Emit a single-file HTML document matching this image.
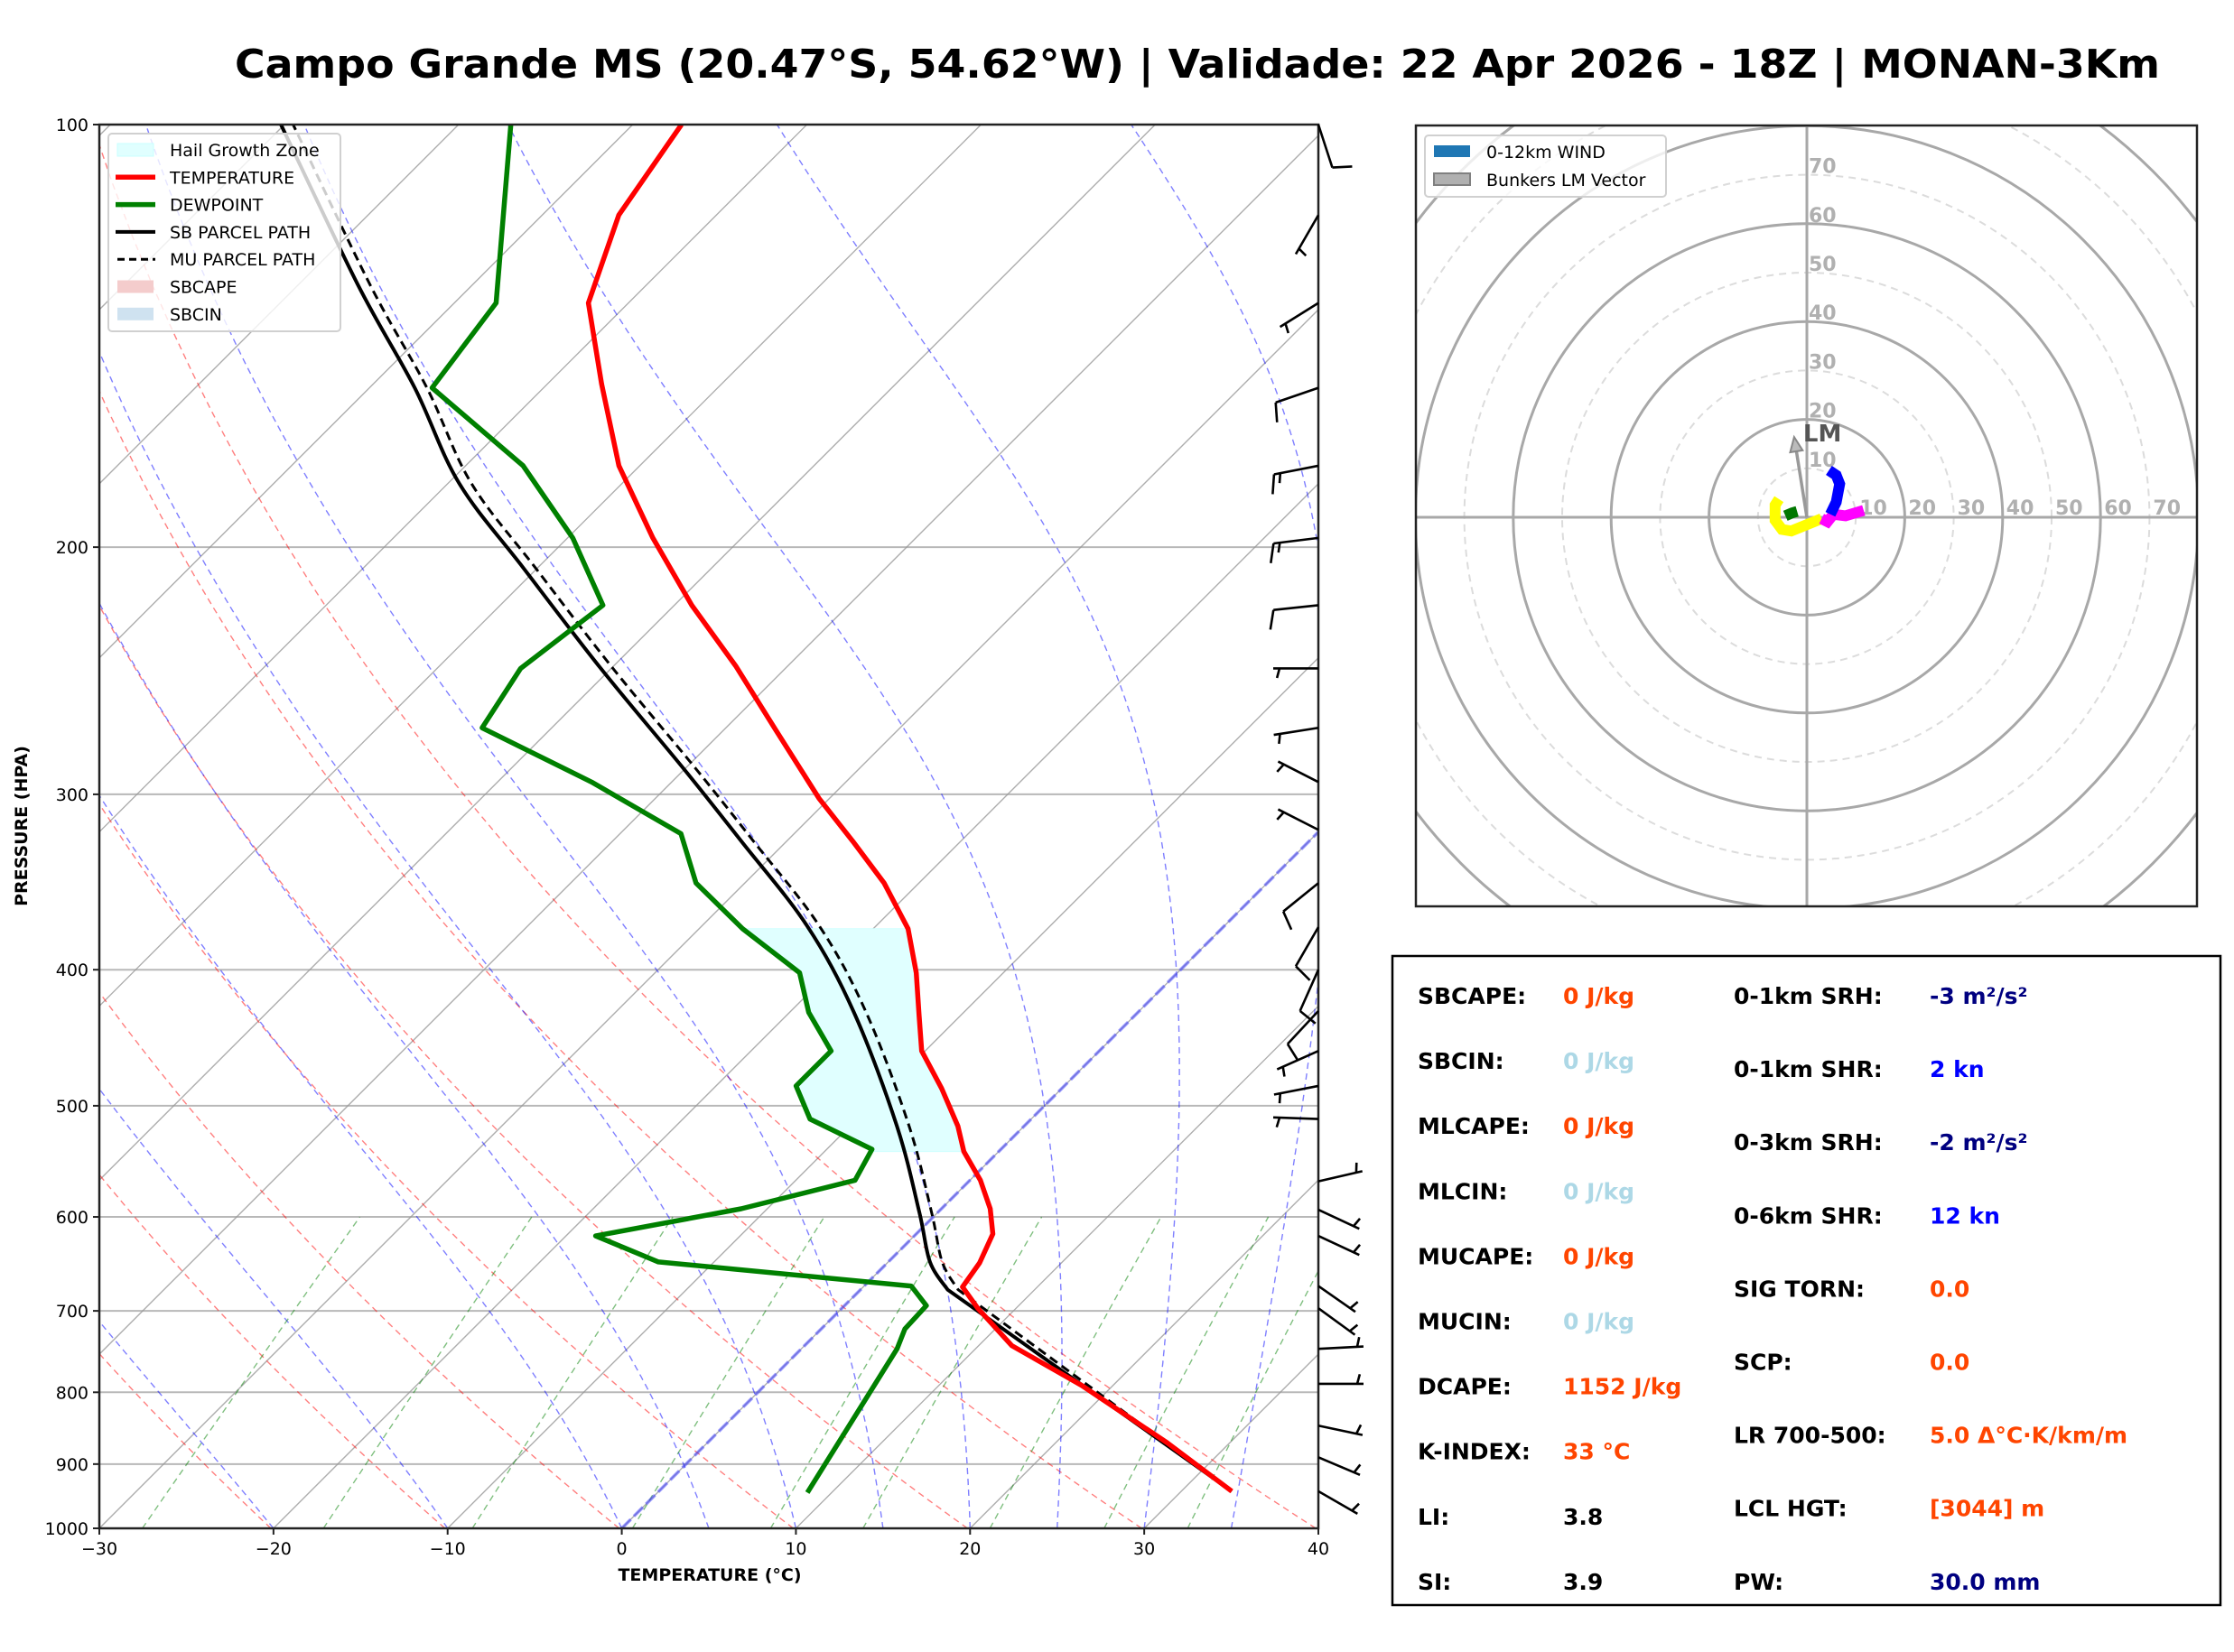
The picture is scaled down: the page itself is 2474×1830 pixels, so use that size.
<!DOCTYPE html>
<html><head><meta charset="utf-8">
<style>
html,body{margin:0;padding:0;background:#fff;}
svg{display:block;font-family:"DejaVu Sans","Liberation Sans",sans-serif;}
</style></head>
<body>
<svg id="chart" xmlns="http://www.w3.org/2000/svg" width="2474" height="1830" viewBox="0 0 2474 1830">
<rect x="0" y="0" width="2474" height="1830" fill="#fff"/>
<text x="1326" y="86" text-anchor="middle" font-size="44" font-weight="bold" textLength="2132" lengthAdjust="spacingAndGlyphs">Campo Grande MS (20.47°S, 54.62°W) | Validade: 22 Apr 2026 - 18Z | MONAN-3Km</text>
<defs>
<clipPath id="skewClip"><rect x="110" y="138" width="1350" height="1555"/></clipPath>
<clipPath id="hodoClip"><rect x="1568" y="139" width="865" height="865"/></clipPath>
</defs>
<g id="skewBg" clip-path="url(#skewClip)"></g>
<g id="skewData" clip-path="url(#skewClip)"></g>
<g id="skewAxes"></g>
<g id="barbs"></g>
<g id="hodo"></g>
<g id="stats"></g>
</svg>
<script>
// ---- Sounding data (hPa, °C) ----
const tempP = [941,869,791,741,697,673,647,617,592,565,539,517,486,457,431,402,374,347,324,302,270,243,220,197,175,153,134,116,100];
const tempT = [32.9,26.4,18.2,11.9,7.8,5.7,5.3,4.4,2.8,0.6,-2.0,-3.8,-6.9,-10.2,-12.4,-15.0,-18.0,-22.0,-26.2,-30.6,-37.0,-43.0,-49.0,-55.1,-61.2,-66.9,-72.3,-75.6,-77.2];
const dewP = [943,745,721,694,672,646,619,592,565,537,511,484,457,429,402,374,347,320,294,269,244,220,197,175,154,134,100];
const dewT = [8.6,5.5,4.8,4.7,2.7,-13.2,-18.3,-11.5,-6.6,-7.4,-12.7,-15.4,-15.4,-18.9,-21.7,-27.5,-32.8,-36.5,-44.6,-54.0,-55.2,-54.1,-59.7,-66.7,-76.4,-77.6,-87.0];
const parcelP = [941,676,646,595,517,429,372,324,288,244,207,180,154,130,100];
const sbParcelT = [32.9,5.0,2.4,-1.1,-7.3,-16.3,-24.0,-32.6,-40.0,-50.6,-60.8,-69.4,-77.4,-86.6,-100.2];
const muParcelT = [32.9,5.6,3.1,-0.4,-6.6,-15.6,-23.3,-31.9,-39.3,-49.9,-60.1,-68.7,-76.7,-85.9,-99.5];
const hgzTop = 374;
const hgzBottom = 539;
// ---- Wind barbs ----
const windP = [100,116,134,154,175,197,220,244,269,294,318,347,373,400,428,457,484,511,566,593,619,672,697,745,789,845,890,941];
const windDir = [162,210,238,251,259,263,264,270,261,297,297,231,210,204,223,246,259,272,77,115,115,125,126,87,90,102,113,120];
const windSpd = [10,5,5,10,15,15,10,5,5,5,5,10,10,10,10,5,5,5,5,5,5,5,5,5,5,5,5,5];
// ---- Hodograph (kn) ----
const hodoGreenU = [-4.4,-3.0,-2.0];
const hodoGreenV = [0.3,0.9,1.2];
const hodoYellowU = [-5.7,-6.5,-6.5,-5.1,-3.2,3.0];
const hodoYellowV = [3.7,2.5,-0.6,-2.5,-2.8,-0.3];
const hodoMagentaU = [3.0,4.2,5.4,7.9,11.6];
const hodoMagentaV = [-0.3,-0.9,0.6,0.3,1.4];
const hodoBlueU = [4.8,6.0,6.7,6.0,4.5];
const hodoBlueV = [0.6,3.1,6.8,8.6,9.6];
const lmU = -2.6;
const lmV = 16.4;
const hodoRings = [10,20,30,40,50,60,70,80,90,100];
const hodoLabels = [10,20,30,40,50,60,70];
// ---- Axes ticks ----
const pTicks = [100,200,300,400,500,600,700,800,900,1000];
const tTicks = [-30,-20,-10,0,10,20,30,40];

const NS = 'http://www.w3.org/2000/svg';
function mk(tag, attrs, parent){const e=document.createElementNS(NS,tag);for(const k in attrs)e.setAttribute(k,attrs[k]);if(parent)parent.appendChild(e);return e;}
const X0=110,X1=1460,Y0=138,Y1=1693,SX=1350/70;
function yP(p){return Y1-Math.log10(1000/p)*(Y1-Y0);}
function xT(T,p){return X0+(T+30)*SX+(Y1-yP(p));}
function pathTP(Ps,Ts){return Ps.map((p,i)=>(i?'L':'M')+xT(Ts[i],p).toFixed(1)+','+yP(p).toFixed(1)).join(' ');}
function smoothTP(Ps,Ts){const pts=Ps.map((p,i)=>[xT(Ts[i],p),yP(p)]);let d='M'+pts[0][0].toFixed(1)+','+pts[0][1].toFixed(1)+' L'+pts[1][0].toFixed(1)+','+pts[1][1].toFixed(1);
for(let i=1;i<pts.length-1;i++){const p0=pts[i===1?1:i-1],p1=pts[i],p2=pts[i+1],p3=pts[Math.min(pts.length-1,i+2)];
const c1=[p1[0]+(p2[0]-p0[0])/6,p1[1]+(p2[1]-p0[1])/6],c2=[p2[0]-(p3[0]-p1[0])/6,p2[1]-(p3[1]-p1[1])/6];
d+=' C'+c1.map(v=>v.toFixed(1)).join(',')+' '+c2.map(v=>v.toFixed(1)).join(',')+' '+p2[0].toFixed(1)+','+p2[1].toFixed(1);}
return d;}

const bg=document.getElementById('skewBg');
pTicks.forEach(p=>{const l=mk('line',{x1:X0,x2:X1,y1:yP(p),y2:yP(p),stroke:'#b8b8b8','stroke-width':2},bg);
});
for(let T=-130;T<=40;T+=10){const l=mk('line',{x1:xT(T,1000),y1:yP(1000),x2:xT(T,100),y2:yP(100),stroke:'#999','stroke-width':1.4,'stroke-opacity':0.8},bg);
}
for(let th=243;th<=313;th+=10){const P=[],T=[];for(let p=1000;p>=100;p-=10){P.push(p);T.push(th*Math.pow(p/1000,0.2857)-273.15);}
const l=mk('path',{d:pathTP(P,T),fill:'none',stroke:'#ff0000','stroke-opacity':0.5,'stroke-width':1.4,'stroke-dasharray':'7,5'},bg);
}
function es(Tc){return 6.112*Math.exp(17.67*Tc/(Tc+243.5));}
[-20,-10,0,5,10,15,20,25,30,35].forEach(t0=>{let T=t0+273.15;const P=[1000],Ts=[t0];
for(let p=1000;p>100;p-=2){const e=es(T-273.15),rs=0.622*e/(p-e);const Lv=2.501e6,Rd=287,Cp=1005;
const dTdp=(Rd*T+Lv*rs)/(Cp+Lv*Lv*rs*0.622/(Rd*T*T))/p;T-=dTdp*2;P.push(p-2);Ts.push(T-273.15);}
const l=mk('path',{d:pathTP(P,Ts),fill:'none',stroke:'#0000ff','stroke-opacity':0.5,'stroke-width':1.4,'stroke-dasharray':'7,5'},bg);
});
[0.4,1,2,4,7,10,16,24,32].forEach(w=>{const P=[],T=[];for(let p=1000;p>=600;p-=20){const ww=w/1000;const e=ww*p/(0.622+ww);const a=Math.log(e/6.112);P.push(p);T.push(243.5*a/(17.67-a));}
const l=mk('path',{d:pathTP(P,T),fill:'none',stroke:'#008000','stroke-opacity':0.5,'stroke-width':1.4,'stroke-dasharray':'7,5'},bg);
});
{const l=mk('line',{x1:xT(0,1000),y1:yP(1000),x2:xT(0,100),y2:yP(100),stroke:'#4040ff','stroke-opacity':0.55,'stroke-width':3.5,'stroke-dasharray':'14,5'},bg);
}

const dg=document.getElementById('skewData');
function interp(Ps,Ts,p){const lp=Math.log(p);for(let i=0;i<Ps.length-1;i++){const a=Math.log(Ps[i]),b=Math.log(Ps[i+1]);if((lp<=a&&lp>=b)){return Ts[i]+(Ts[i+1]-Ts[i])*(lp-a)/(b-a);}}return Ts[Ts.length-1];}
{let pts=[];const lv=[];for(let p=hgzBottom;p>=hgzTop;p-=1)lv.push(p);
lv.forEach(p=>pts.push(xT(interp(tempP,tempT,p),p).toFixed(1)+','+yP(p).toFixed(1)));
lv.slice().reverse().forEach(p=>pts.push(xT(interp(dewP,dewT,p),p).toFixed(1)+','+yP(p).toFixed(1)));
const h=mk('polygon',{points:pts.join(' '),fill:'#e0ffff',stroke:'#d0ffff','stroke-width':1},dg);
}
{const l=mk('path',{d:smoothTP(parcelP,muParcelT),fill:'none',stroke:'#000','stroke-width':3,'stroke-dasharray':'10,6'},dg);
}
{const l=mk('path',{d:smoothTP(parcelP,sbParcelT),fill:'none',stroke:'#000','stroke-width':4},dg);
}
{const l=mk('path',{d:pathTP(tempP,tempT),fill:'none',stroke:'#ff0000','stroke-width':5.5,'stroke-linejoin':'round'},dg);
}
{const l=mk('path',{d:pathTP(dewP,dewT),fill:'none',stroke:'#008000','stroke-width':5.5,'stroke-linejoin':'round'},dg);
}

const ax=document.getElementById('skewAxes');
{const r=mk('rect',{x:X0,y:Y0,width:X1-X0,height:Y1-Y0,fill:'none',stroke:'#222','stroke-width':2.5},ax);
}
pTicks.forEach(p=>{mk('line',{x1:X0-7,x2:X0,y1:yP(p),y2:yP(p),stroke:'#222','stroke-width':2},ax);
const t=mk('text',{x:X0-12,y:yP(p)+7,'text-anchor':'end','font-size':19},ax);t.textContent=p;
});
tTicks.forEach(T=>{const x=X0+(T+30)*SX;mk('line',{x1:x,x2:x,y1:Y1,y2:Y1+7,stroke:'#222','stroke-width':2},ax);
const t=mk('text',{x:x,y:Y1+29,'text-anchor':'middle','font-size':19},ax);t.textContent=(T<0?'\u2212'+(-T):T);
});
{const t=mk('text',{x:786,y:1751,'text-anchor':'middle','font-size':19,'font-weight':'bold'},ax);t.textContent='TEMPERATURE (°C)';
}
{const t=mk('text',{x:0,y:0,'text-anchor':'middle','font-size':19,'font-weight':'bold',transform:'translate(30,915) rotate(-90)'},ax);t.textContent='PRESSURE (HPA)';
}
{const lg=mk('g',{},ax);
mk('rect',{x:120,y:148,width:257,height:219,rx:4,fill:'#fff','fill-opacity':0.8,stroke:'#d0d0d0','stroke-width':2},lg);
const items=[['Hail Growth Zone','rect','#e0ffff'],['TEMPERATURE','line','#ff0000'],['DEWPOINT','line','#008000'],['SB PARCEL PATH','line','#000'],['MU PARCEL PATH','dash','#000'],['SBCAPE','rect','#f4cccc'],['SBCIN','rect','#cfe2f0']];
items.forEach((it,i)=>{const y=166+i*30.3;
if(it[1]==='rect')mk('rect',{x:130,y:y-7,width:40,height:14,fill:it[2],stroke:it[0]==='Hail Growth Zone'?'#c8ffff':'none'},lg);
else if(it[1]==='line')mk('line',{x1:128,x2:172,y1:y,y2:y,stroke:it[2],'stroke-width':it[0]==='SB PARCEL PATH'?4:5.5},lg);
else mk('line',{x1:130,x2:172,y1:y,y2:y,stroke:it[2],'stroke-width':3,'stroke-dasharray':'8,5'},lg);
const t=mk('text',{x:188,y:y+7,'font-size':19},lg);t.textContent=it[0];
});}

const bb=document.getElementById('barbs');
windP.forEach((p,i)=>{const th=windDir[i]*Math.PI/180;const dx=Math.sin(th),dy=-Math.cos(th);
const bx=X1,by=yP(p),L=50;const tx=bx+dx*L,ty=by+dy*L;
const g=mk('g',{},bb);
mk('line',{x1:bx,y1:by,x2:tx,y2:ty,stroke:'#000','stroke-width':2.6},g);
const ang=Math.atan2(dy,dx)-75*Math.PI/180;const ux=Math.cos(ang),uy=Math.sin(ang);
let s=windSpd[i];let pos=0;const full=Math.floor(s/10);const half=(s%10)>=5?1:0;
for(let k=0;k<full;k++){const px=tx-dx*pos,py=ty-dy*pos;mk('line',{x1:px,y1:py,x2:px+ux*22,y2:py+uy*22,stroke:'#000','stroke-width':2.6},g);pos+=7;}
if(half){if(full===0)pos=7;const px=tx-dx*pos,py=ty-dy*pos;mk('line',{x1:px,y1:py,x2:px+ux*11,y2:py+uy*11,stroke:'#000','stroke-width':2.6},g);}
});

const hg=document.getElementById('hodo');
const CX=2001,CY=573,HS=5.42;
function hx(u){return CX+u*HS;} function hy(v){return CY-v*HS;}
const hc=mk('g',{'clip-path':'url(#hodoClip)'},hg);
hodoRings.forEach(r=>{const solid=r%20===0;const c=mk('circle',{cx:CX,cy:CY,r:r*HS,fill:'none',stroke:solid?'#a8a8a8':'#dcdcdc','stroke-width':solid?3:2,'stroke-dasharray':solid?'none':'8,6'},hc);
});
mk('line',{x1:1568,x2:2433,y1:CY,y2:CY,stroke:'#a8a8a8','stroke-width':3},hc);
mk('line',{x1:CX,x2:CX,y1:139,y2:1004,stroke:'#a8a8a8','stroke-width':3},hc);
hodoLabels.forEach(r=>{const t1=mk('text',{x:hx(r)+4,y:CY-3,'font-size':22,'font-weight':'bold',fill:'#b0b0b0'},hc);t1.textContent=r;

const t2=mk('text',{x:CX+2,y:CY-r*HS-2,'font-size':22,'font-weight':'bold',fill:'#b0b0b0'},hc);t2.textContent=r;
});
function hodoLine(U,V,col,name){const d=U.map((u,i)=>(i?'L':'M')+hx(u).toFixed(1)+','+hy(V[i]).toFixed(1)).join(' ');
const l=mk('path',{d:d,fill:'none',stroke:col,'stroke-width':12,'stroke-linejoin':'miter'},hc);
}
hodoLine(hodoYellowU,hodoYellowV,'#ffff00','hodograph-yellow-segment');
hodoLine(hodoMagentaU,hodoMagentaV,'#ff00ff','hodograph-magenta-segment');
hodoLine(hodoBlueU,hodoBlueV,'#0000ff','hodograph-blue-segment');
hodoLine(hodoGreenU,hodoGreenV,'#007700','hodograph-green-segment');
{const ex=hx(lmU),ey=hy(lmV);const a=Math.atan2(ey-CY,ex-CX);
const g=mk('g',{},hc);
mk('line',{x1:CX,y1:CY,x2:ex-Math.cos(a)*12,y2:ey-Math.sin(a)*12,stroke:'#999','stroke-width':3.5},g);
const px=-Math.sin(a),py=Math.cos(a);
mk('polygon',{points:`${ex},${ey} ${ex-Math.cos(a)*16+px*7},${ey-Math.sin(a)*16+py*7} ${ex-Math.cos(a)*16-px*7},${ey-Math.sin(a)*16-py*7}`,fill:'#bbb',stroke:'#888','stroke-width':2},g);
const t=mk('text',{x:ex+10,y:ey+5,'font-size':26,'font-weight':'bold',fill:'#555'},hc);t.textContent='LM';
}
{const r=mk('rect',{x:1568,y:139,width:865,height:865,fill:'none',stroke:'#222','stroke-width':2.5},hg);
}
{const lg=mk('g',{},hg);
mk('rect',{x:1578,y:150,width:267,height:68,rx:4,fill:'#fff','fill-opacity':0.8,stroke:'#d0d0d0','stroke-width':2},lg);
mk('rect',{x:1588,y:161,width:40,height:13,fill:'#1f77b4'},lg);
mk('rect',{x:1588,y:192,width:40,height:13,fill:'#b0b0b0',stroke:'#808080','stroke-width':2},lg);
const t1=mk('text',{x:1646,y:175,'font-size':19},lg);t1.textContent='0-12km WIND';
const t2=mk('text',{x:1646,y:206,'font-size':19},lg);t2.textContent='Bunkers LM Vector';}

const st=document.getElementById('stats');
{const r=mk('rect',{x:1542,y:1059,width:917,height:719,fill:'#fff',stroke:'#000','stroke-width':2.5},st);
}
const OR='#ff4500',LB='#add8e6',NV='#000080',BL='#0000ff';
const left=[['SBCAPE:','0 J/kg',OR],['SBCIN:','0 J/kg',LB],['MLCAPE:','0 J/kg',OR],['MLCIN:','0 J/kg',LB],['MUCAPE:','0 J/kg',OR],['MUCIN:','0 J/kg',LB],['DCAPE:','1152 J/kg',OR],['K-INDEX:','33 °C',OR],['LI:','3.8','#000'],['SI:','3.9','#000']];
const right=[['0-1km SRH:','-3 m²/s²',NV],['0-1km SHR:','2 kn',BL],['0-3km SRH:','-2 m²/s²',NV],['0-6km SHR:','12 kn',BL],['SIG TORN:','0.0',OR],['SCP:','0.0',OR],['LR 700-500:','5.0 Δ°C·K/km/m',OR],['LCL HGT:','[3044] m',OR],['PW:','30.0 mm',NV]];
left.forEach((r,i)=>{const y=1112+i*72.1;
const a=mk('text',{x:1570,y:y,'font-size':25,'font-weight':'bold'},st);a.textContent=r[0];
const b=mk('text',{x:1731,y:y,'font-size':25,'font-weight':'bold',fill:r[2]},st);b.textContent=r[1];});
right.forEach((r,i)=>{const y=1112+i*81.1;
const a=mk('text',{x:1920,y:y,'font-size':25,'font-weight':'bold'},st);a.textContent=r[0];
const b=mk('text',{x:2137,y:y,'font-size':25,'font-weight':'bold',fill:r[2]},st);b.textContent=r[1];});
</script>
</body></html>
